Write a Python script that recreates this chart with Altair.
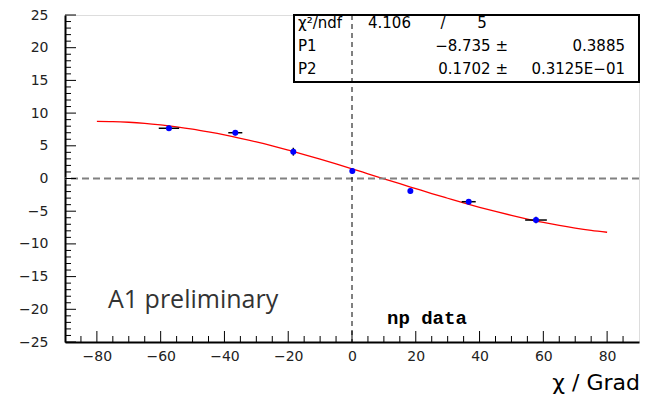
import altair as alt
import pandas as pd

# ---- data ----
pt_x = [-57.4, -36.6, -18.4, 0.1, 18.3, 36.6, 57.7]
pt_y = [7.68, 7.0, 4.1, 1.15, -1.9, -3.55, -6.35]
pt_xerr = [3.2, 2.2, 0.8, 0.0, 0.0, 2.2, 3.4]
pt_yerr = [0.4, 0.4, 0.6, 0.4, 0.4, 0.4, 0.5]

fit_x = [-80, -75, -70, -65, -60, -55, -50, -45, -40, -35, -30, -25, -20, -15, -10, -5,
         0, 5, 10, 15, 20, 25, 30, 35, 40, 45, 50, 55, 60, 65, 70, 75, 80]
fit_y = [8.73, 8.70, 8.60, 8.43, 8.19, 7.90, 7.55, 7.13, 6.67, 6.15, 5.59, 4.98, 4.33, 3.66,
         2.95, 2.22, 1.48, 0.72, -0.04, -0.80, -1.55, -2.30, -3.02, -3.73, -4.40, -5.04,
         -5.64, -6.20, -6.72, -7.18, -7.58, -7.93, -8.22]

x_major = [-80, -60, -40, -20, 0, 20, 40, 60, 80]
x_minor = [v for v in range(-85, 90, 5) if v % 20 != 0]
y_major = [-25, -20, -15, -10, -5, 0, 5, 10, 15, 20, 25]
y_minor = [v for v in range(-24, 25) if v % 5 != 0]

W, H = 574, 327
FONT = "DejaVu Sans"

pts = pd.DataFrame({"x": pt_x, "y": pt_y, "xerr": pt_xerr, "yerr": pt_yerr})
pts["xlo"] = pts.x - pts.xerr
pts["xhi"] = pts.x + pts.xerr
pts["ylo"] = pts.y - pts.yerr
pts["yhi"] = pts.y + pts.yerr
fit = pd.DataFrame({"x": fit_x, "y": fit_y})

xs = alt.Scale(domain=[-90, 90], nice=False, zero=False)
ys = alt.Scale(domain=[-25, 25], nice=False, zero=False)

xaxis = alt.Axis(values=x_major, ticks=False, grid=False, title=None, labelPadding=7,
                 domainColor="black", domainWidth=2, labelFont=FONT, labelFontSize=14,
                 labelColor="#222", labelOverlap=False, labelFlush=False)
yaxis = alt.Axis(values=y_major, ticks=False, grid=False, title=None, labelPadding=17,
                 domainColor="black", domainWidth=2, labelFont=FONT, labelFontSize=14,
                 labelColor="#222", labelOverlap=False, labelFlush=False)

XQ = lambda f: alt.X(f, scale=xs, axis=xaxis)
YQ = lambda f: alt.Y(f, scale=ys, axis=yaxis)

base = alt.Chart(fit).mark_line(stroke="red", strokeWidth=1.3, interpolate="monotone").encode(
    x=XQ("x:Q"), y=YQ("y:Q"))

hline = alt.Chart(pd.DataFrame({"v": [0]})).mark_rule(
    stroke="#808080", strokeWidth=2, strokeDash=[7, 4]).encode(y=YQ("v:Q"))
vline = alt.Chart(pd.DataFrame({"v": [0]})).mark_rule(
    stroke="black", strokeWidth=1, strokeDash=[5, 4]).encode(x=XQ("v:Q"))

xerrbar = alt.Chart(pts).mark_rule(stroke="black", strokeWidth=1.5).encode(
    x=XQ("xlo:Q"), x2="xhi:Q", y=YQ("y:Q"))
yerrbar = alt.Chart(pts).mark_rule(stroke="black", strokeWidth=1.5).encode(
    y=YQ("ylo:Q"), y2="yhi:Q", x=XQ("x:Q"))
points = alt.Chart(pts).mark_circle(color="#0000ff", opacity=1, size=36).encode(
    x=XQ("x:Q"), y=YQ("y:Q"))

def yticks(vals, ln):
    return alt.Chart(pd.DataFrame({"v": vals})).mark_rule(stroke="black", strokeWidth=1).encode(
        y=YQ("v:Q"), x=alt.value(0), x2=alt.value(ln))

def xticks(vals, ln):
    return alt.Chart(pd.DataFrame({"v": vals})).mark_rule(stroke="black", strokeWidth=1).encode(
        x=XQ("v:Q"), y=alt.value(H), y2=alt.value(H - ln))

one = pd.DataFrame({"a": [0]})

def txt(s, x, y, size=15, align="left", font=FONT, weight="normal", color="black", baseline="middle"):
    return alt.Chart(one).mark_text(text=s, align=align, baseline=baseline, font=font,
                                    fontSize=size, fontWeight=weight, color=color).encode(
        x=alt.value(x), y=alt.value(y))

box = alt.Chart(one).mark_rect(fill="white", fillOpacity=0, stroke="black", strokeWidth=2).encode(
    x=alt.value(229), x2=alt.value(W), y=alt.value(0), y2=alt.value(67))

texts = [
    txt("χ²/ndf", 233, 8),
    txt("4.106", 303, 8),
    txt("/", 378, 8, align="center"),
    txt("5", 417, 8, align="center"),
    txt("P1", 233, 31),
    txt("−8.735 ±", 443, 31, align="right"),
    txt("0.3885", 560, 31, align="right"),
    txt("P2", 233, 54),
    txt("0.1702 ±", 443, 54, align="right"),
    txt("0.3125E−01", 560, 54, align="right"),
    txt("A1 preliminary", 43, 285, size=25, font="Open Sans", color="#333"),
    txt("np data", 322, 303, size=19, font="Liberation Mono", weight="bold"),
    txt("χ / Grad", 575, 368, size=22, align="right"),
]

chart = alt.layer(
    base, hline, vline, xerrbar, yerrbar, points,
    yticks(y_major, 11), yticks(y_minor, 6), xticks(x_major, 11), xticks(x_minor, 6),
    box, *texts
).properties(
    width=W, height=H,
    padding={"left": 65, "top": 15, "right": 16, "bottom": 59},
    autosize=alt.AutoSizeParams(type="none"),
).configure_view(stroke="#555", strokeWidth=1).configure_axis(
    labelOverlap=False, labelFlush=False
).configure(background="white")

chart.save("out.html", embed_options={"renderer": "svg", "actions": False})
